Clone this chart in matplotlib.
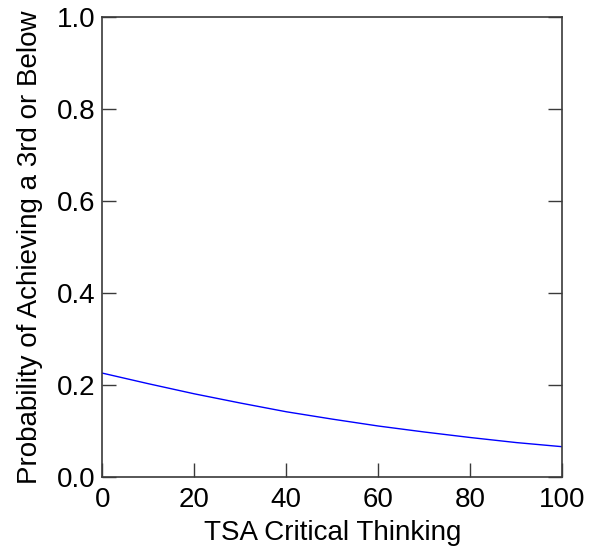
import numpy as np
import matplotlib
matplotlib.use('Agg')
import matplotlib.pyplot as plt

# values
tsa = [0, 10, 20, 30, 40, 50, 60, 70, 80, 90, 100]
prob = [0.226, 0.203, 0.181, 0.161, 0.142, 0.126, 0.111, 0.098, 0.086, 0.075, 0.066]

plt.rcParams['font.family'] = ['Liberation Sans', 'DejaVu Sans']

fig = plt.figure(figsize=(6.04, 5.53), dpi=100)
ax = fig.add_axes([0.1697, 0.1374, 0.7608, 0.831])

ax.plot(tsa, prob, color='#0000ff', linewidth=1.0)

ax.set_xlim(0, 100)
ax.set_ylim(0, 1)
ax.set_xticks([0, 20, 40, 60, 80, 100])
ax.set_yticks([0.0, 0.2, 0.4, 0.6, 0.8, 1.0])
ax.set_yticklabels(['0.0', '0.2', '0.4', '0.6', '0.8', '1.0'])

for s in ax.spines.values():
    s.set_color('#3a3a3a')
    s.set_linewidth(1.2)

ax.tick_params(axis='both', direction='in', length=10, width=1, color='#3a3a3a',
               labelsize=20)
ax.tick_params(axis='x', pad=7)
ax.tick_params(axis='y', right=True, pad=5)

ax.set_xlabel('TSA Critical Thinking', fontsize=20, labelpad=5)
ax.set_ylabel('Probability of Achieving a 3rd or Below', fontsize=20, labelpad=10)

fig.savefig('out.png', dpi=100)
